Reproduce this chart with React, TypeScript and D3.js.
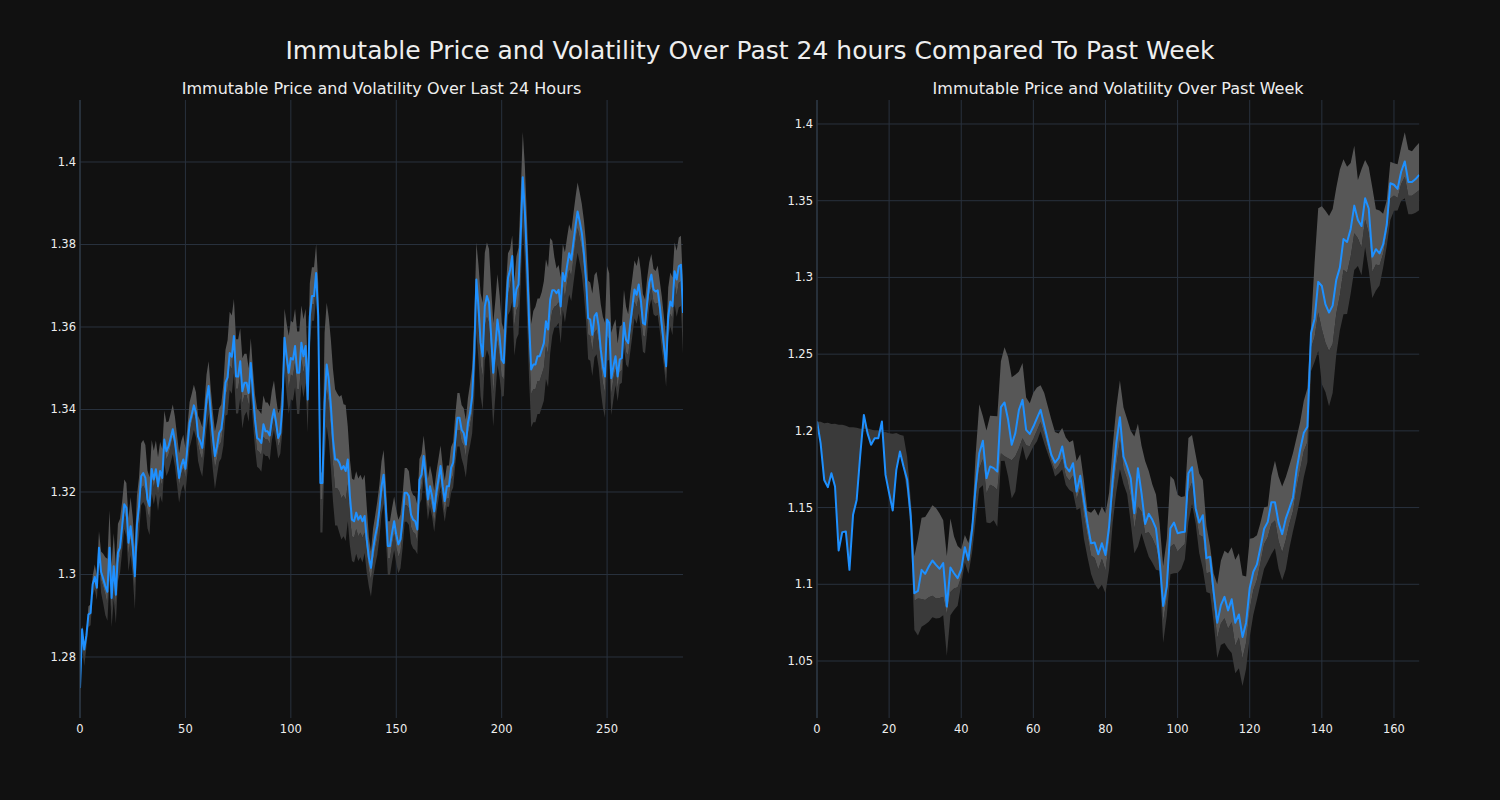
import React from "react";
import * as d3 from "d3";

// ---------- DATA ----------
const TITLE = "Immutable Price and Volatility Over Past 24 hours Compared To Past Week";
const LEFT_TITLE = "Immutable Price and Volatility Over Last 24 Hours";
const RIGHT_TITLE = "Immutable Price and Volatility Over Past Week";

const LEFT_X_TICKS = [0, 50, 100, 150, 200, 250];
const LEFT_Y_TICKS = [1.28, 1.3, 1.32, 1.34, 1.36, 1.38, 1.4];
const RIGHT_X_TICKS = [0, 20, 40, 60, 80, 100, 120, 140, 160];
const RIGHT_Y_TICKS = [1.05, 1.1, 1.15, 1.2, 1.25, 1.3, 1.35, 1.4];

// price over last 24 hours (5-minute steps)
const LEFT_PRICE = [
  1.2725, 1.2867, 1.2818, 1.2851, 1.2903, 1.2907, 1.2976, 1.2994, 1.2968, 1.3065,
  1.3006, 1.2990, 1.2972, 1.2958, 1.3065, 1.2943, 1.3020, 1.2951, 1.3053, 1.3065,
  1.3117, 1.3170, 1.3162, 1.3077, 1.3117, 1.3069, 1.2996, 1.3121, 1.3166, 1.3238,
  1.3246, 1.3234, 1.3182, 1.3166, 1.3256, 1.3230, 1.3255, 1.3214, 1.3251, 1.3234,
  1.3327, 1.3299, 1.3311, 1.3331, 1.3352, 1.3323, 1.3279, 1.3234, 1.3263, 1.3279,
  1.3256, 1.3311, 1.3368, 1.3388, 1.3410, 1.3392, 1.3335, 1.3323, 1.3307, 1.3360,
  1.3424, 1.3457, 1.3392, 1.3335, 1.3287, 1.3311, 1.3343, 1.3352, 1.3392, 1.3465,
  1.3478, 1.3537, 1.3528, 1.3578, 1.3480, 1.3480, 1.3517, 1.3444, 1.3465, 1.3465,
  1.3440, 1.3513, 1.3440, 1.3376, 1.3331, 1.3327, 1.3319, 1.3364, 1.3347, 1.3347,
  1.3337, 1.3376, 1.3400, 1.3368, 1.3331, 1.3343, 1.3408, 1.3574, 1.3529, 1.3489,
  1.3525, 1.3521, 1.3554, 1.3489, 1.3489, 1.3562, 1.3529, 1.3554, 1.3424, 1.3626,
  1.3675, 1.3675, 1.3731, 1.3626, 1.3222, 1.3222, 1.3416, 1.3509, 1.3473, 1.3408,
  1.3327, 1.3279, 1.3279, 1.3271, 1.3255, 1.3263, 1.3251, 1.3279, 1.3190, 1.3133,
  1.3129, 1.3150, 1.3133, 1.3142, 1.3129, 1.3142, 1.3085, 1.3041, 1.3016, 1.3061,
  1.3093, 1.3117, 1.3158, 1.3214, 1.3242, 1.3166, 1.3069, 1.3069, 1.3101, 1.3129,
  1.3097, 1.3073, 1.3085, 1.3133, 1.3198, 1.3198, 1.3190, 1.3145, 1.3133, 1.3129,
  1.3109, 1.3230, 1.3242, 1.3287, 1.3238, 1.3182, 1.3214, 1.3190, 1.3153, 1.3198,
  1.3230, 1.3263, 1.3214, 1.3178, 1.3214, 1.3214, 1.3259, 1.3271, 1.3327, 1.3380,
  1.3380, 1.3351, 1.3343, 1.3315, 1.3368, 1.3392, 1.3432, 1.3537, 1.3715, 1.3650,
  1.3562, 1.3529, 1.3650, 1.3675, 1.3659, 1.3578, 1.3489, 1.3554, 1.3618, 1.3578,
  1.3521, 1.3513, 1.3626, 1.3719, 1.3739, 1.3772, 1.3650, 1.3691, 1.3703, 1.3820,
  1.3963, 1.3880, 1.3760, 1.3612, 1.3497, 1.3509, 1.3509, 1.3529, 1.3529, 1.3545,
  1.3561, 1.3614, 1.3594, 1.3666, 1.3689, 1.3689, 1.3682, 1.3690, 1.3650, 1.3731,
  1.3711, 1.3747, 1.3779, 1.3763, 1.3804, 1.3844, 1.3880, 1.3856, 1.3828, 1.3779,
  1.3715, 1.3622, 1.3618, 1.3581, 1.3626, 1.3634, 1.3602, 1.3545, 1.3505, 1.3480,
  1.3618, 1.3610, 1.3476, 1.3505, 1.3529, 1.3480, 1.3521, 1.3525, 1.3610, 1.3569,
  1.3561, 1.3610, 1.3650, 1.3691, 1.3678, 1.3703, 1.3666, 1.3610, 1.3606, 1.3658,
  1.3707, 1.3727, 1.3691, 1.3686, 1.3689, 1.3650, 1.3602, 1.3553, 1.3505, 1.3626,
  1.3662, 1.3650, 1.3735, 1.3715, 1.3747, 1.3751, 1.3634,
];
// band edges, in thousandths of price: top above price, split (light/dark) below price, bottom below price
const LEFT_UP = [
  1, 1, 1, 1, 2, 2, 2, 3, 3, 4,
  5, 6, 7, 8, 9, 8, 8, 7, 7, 7,
  6, 6, 6, 6, 7, 7, 7, 7, 7, 8,
  8, 8, 7, 7, 7, 7, 7, 7, 7, 7,
  7, 7, 6, 6, 6, 6, 6, 6, 6, 6,
  5, 5, 5, 5, 5, 5, 5, 5, 5, 5,
  6, 6, 6, 6, 6, 6, 6, 6, 7, 8,
  9, 10, 10, 9, 9, 9, 8, 8, 7, 7,
  6, 6, 6, 6, 7, 7, 7, 7, 7, 7,
  7, 7, 7, 6, 6, 6, 6, 7, 8, 9,
  9, 9, 9, 10, 10, 9, 9, 9, 8, 8,
  7, 7, 7, 8, 2, 3, 17, 15, 15, 16,
  17, 17, 16, 16, 18, 15, 16, 8, 9, 10,
  10, 10, 10, 10, 10, 10, 8, 5, 4, 5,
  5, 6, 6, 6, 6, 6, 6, 6, 6, 6,
  6, 6, 6, 6, 6, 6, 6, 6, 6, 6,
  6, 5, 5, 5, 5, 5, 5, 5, 5, 5,
  5, 5, 5, 5, 5, 5, 5, 5, 6, 6,
  6, 6, 6, 6, 6, 7, 7, 8, 9, 10,
  12, 13, 13, 13, 13, 12, 12, 11, 11, 10,
  9, 8, 7, 6, 5, 5, 6, 8, 9, 10,
  11, 11, 10, 10, 11, 13, 14, 14, 14, 14,
  15, 15, 15, 15, 12, 8, 6, 6, 7, 7,
  7, 7, 7, 7, 7, 7, 7, 7, 7, 8,
  9, 9, 9, 10, 10, 10, 10, 11, 12, 13,
  13, 12, 11, 10, 9, 8, 8, 8, 8, 8,
  7, 7, 7, 7, 7, 7, 7, 7, 6, 6,
  5, 5, 5, 5, 6, 6, 7, 7, 7, 7,
  7, 7, 7, 7, 7, 7, 7,
];
const LEFT_MID = [
  0, 0, 0, 0, 0, 0, 0, 1, 1, 1,
  2, 2, 2, 3, 3, 3, 3, 3, 3, 2,
  2, 2, 3, 3, 3, 3, 3, 3, 3, 3,
  3, 3, 3, 3, 2, 2, 2, 2, 2, 2,
  2, 2, 2, 2, 2, 2, 2, 2, 2, 2,
  2, 2, 2, 2, 2, 2, 2, 3, 3, 3,
  3, 3, 3, 3, 3, 3, 3, 3, 3, 3,
  3, 3, 3, 3, 3, 3, 3, 3, 3, 3,
  3, 3, 3, 3, 3, 3, 3, 3, 2, 2,
  2, 2, 2, 2, 2, 2, 2, 3, 3, 4,
  4, 4, 4, 4, 4, 4, 4, 4, 3, 3,
  2, 2, 2, 3, 4, 4, 6, 6, 6, 6,
  6, 7, 7, 7, 7, 7, 7, 6, 5, 4,
  4, 4, 4, 4, 4, 4, 3, 3, 3, 3,
  3, 3, 3, 3, 3, 3, 3, 3, 3, 3,
  3, 3, 3, 3, 3, 3, 3, 3, 3, 3,
  3, 3, 3, 3, 3, 3, 3, 3, 3, 3,
  3, 3, 3, 3, 3, 3, 3, 3, 3, 3,
  3, 3, 3, 3, 3, 3, 4, 5, 5, 5,
  5, 5, 5, 5, 5, 5, 5, 5, 5, 5,
  4, 4, 4, 4, 4, 4, 5, 5, 5, 5,
  5, 5, 5, 6, 6, 6, 6, 6, 6, 6,
  6, 6, 6, 6, 5, 4, 3, 3, 3, 3,
  4, 4, 4, 4, 4, 4, 4, 4, 4, 4,
  4, 4, 4, 4, 4, 4, 4, 4, 4, 4,
  4, 4, 4, 3, 3, 3, 3, 3, 3, 3,
  3, 3, 3, 3, 3, 3, 3, 3, 3, 3,
  3, 3, 3, 3, 3, 3, 3, 3, 3, 3,
  3, 3, 3, 4, 4, 4, 4,
];
const LEFT_DN = [
  4, 4, 4, 3, 3, 3, 3, 3, 3, 4,
  5, 6, 7, 7, 8, 7, 8, 7, 7, 6,
  6, 6, 7, 7, 7, 7, 8, 7, 7, 7,
  7, 7, 7, 7, 6, 6, 6, 6, 6, 6,
  6, 6, 6, 6, 6, 6, 6, 6, 6, 6,
  6, 6, 6, 6, 6, 6, 6, 7, 7, 7,
  7, 7, 8, 8, 8, 7, 7, 7, 8, 8,
  9, 9, 9, 9, 9, 9, 9, 9, 8, 7,
  7, 7, 7, 7, 7, 7, 7, 7, 6, 6,
  6, 5, 5, 5, 5, 5, 6, 8, 9, 10,
  10, 10, 10, 10, 10, 10, 10, 9, 8, 7,
  6, 6, 6, 7, 12, 12, 14, 15, 15, 15,
  15, 16, 16, 17, 17, 17, 17, 15, 12, 10,
  10, 10, 10, 10, 10, 9, 8, 7, 7, 7,
  7, 7, 7, 7, 7, 7, 7, 7, 7, 7,
  7, 7, 7, 7, 7, 7, 7, 7, 7, 7,
  6, 6, 6, 5, 5, 5, 5, 5, 5, 5,
  5, 5, 5, 5, 5, 5, 6, 6, 6, 7,
  7, 7, 8, 8, 8, 8, 9, 11, 13, 13,
  13, 13, 13, 13, 13, 13, 13, 12, 11, 10,
  9, 8, 8, 9, 10, 11, 12, 12, 12, 12,
  12, 12, 13, 14, 14, 14, 14, 14, 14, 14,
  14, 14, 14, 13, 11, 9, 8, 8, 9, 9,
  10, 10, 10, 10, 10, 10, 10, 10, 10, 10,
  10, 10, 10, 10, 10, 10, 10, 10, 10, 10,
  10, 9, 9, 8, 7, 6, 6, 6, 6, 6,
  6, 7, 7, 7, 7, 7, 7, 7, 7, 7,
  6, 6, 6, 6, 6, 6, 6, 5, 5, 5,
  6, 7, 8, 9, 10, 10, 10,
];

// price over past week (hourly)
const RIGHT_PRICE = [
  1.2061, 1.1920, 1.1680, 1.1633, 1.1724, 1.1637, 1.1220, 1.1340, 1.1344, 1.1094,
  1.1453, 1.1550, 1.1844, 1.2104, 1.1985, 1.1909, 1.1952, 1.1952, 1.2061, 1.1713,
  1.1594, 1.1481, 1.1746, 1.1865, 1.1768, 1.1681, 1.1442, 1.0942, 1.0957, 1.1094,
  1.1068, 1.1116, 1.1155, 1.1127, 1.1101, 1.1138, 1.0855, 1.1109, 1.1072, 1.1040,
  1.1098, 1.1242, 1.1159, 1.1355, 1.1637, 1.1854, 1.1935, 1.1692, 1.1768, 1.1757,
  1.1735, 1.2154, 1.2185, 1.2072, 1.1909, 1.1985, 1.2137, 1.2202, 1.2007, 1.1980,
  1.2028, 1.2083, 1.2137, 1.2039, 1.1941, 1.1843, 1.1793, 1.1822, 1.1898, 1.1767,
  1.1735, 1.1789, 1.1604, 1.1707, 1.1550, 1.1398, 1.1267, 1.1272, 1.1196, 1.1267,
  1.1191, 1.1376, 1.1680, 1.1920, 1.2089, 1.1833, 1.1767, 1.1691, 1.1463, 1.1757,
  1.1593, 1.1393, 1.1459, 1.1420, 1.1365, 1.1159, 1.0859, 1.0985, 1.1365, 1.1402,
  1.1333, 1.1339, 1.1343, 1.1724, 1.1763, 1.1496, 1.1402, 1.1450, 1.1170, 1.1180,
  1.0950, 1.0750, 1.0864, 1.0918, 1.0830, 1.0902, 1.0750, 1.0803, 1.0657, 1.0750,
  1.0976, 1.1082, 1.1130, 1.1242, 1.1362, 1.1407, 1.1535, 1.1535, 1.1402, 1.1327,
  1.1428, 1.1495, 1.1566, 1.1747, 1.1880, 1.1987, 1.2027, 1.2638, 1.2731, 1.2971,
  1.2944, 1.2824, 1.2771, 1.2816, 1.2984, 1.3064, 1.3250, 1.3231, 1.3316, 1.3468,
  1.3375, 1.3335, 1.3516, 1.3449, 1.3136, 1.3184, 1.3157, 1.3215, 1.3343, 1.3614,
  1.3604, 1.3577, 1.3689, 1.3756, 1.3622, 1.3622, 1.3641, 1.3668,
];
const RIGHT_UP = [
  0, 14, 37, 42, 32, 41, 82, 70, 69, 93,
  57, 47, 17, -9, 3, 10, 5, 5, -7, 28,
  39, 50, 24, 11, 20, 15, 11, 24, 34, 34,
  37, 36, 36, 37, 36, 28, 33, 32, 24, 21,
  13, 8, 11, 5, 21, 32, 16, 31, 33, 34,
  36, 30, 36, 41, 44, 38, 25, 24, 21, 20,
  22, 20, 16, 21, 22, 23, 20, 16, 12, 19,
  19, 15, 20, 14, 13, 8, 20, 22, 25, 24,
  27, 22, 22, 23, 24, 32, 31, 31, 50, 29,
  31, 41, 28, 23, 22, 24, 26, 31, 34, 28,
  25, 23, 23, 23, 21, 35, 32, 23, 21, 7,
  12, 25, 29, 30, 37, 34, 41, 40, 40, 30,
  32, 22, 19, 16, 14, 10, 17, 27, 30, 31,
  27, 28, 29, 21, 18, 21, 25, 5, 37, 48,
  52, 61, 63, 63, 60, 64, 52, 49, 43, 39,
  26, 37, 25, 27, 45, 26, 28, 20, 16, 14,
  14, 16, 16, 19, 21, 20, 21, 21,
];
const RIGHT_MID = [
  0, -14, -37, -42, -32, -41, -82, -70, -69, -93,
  -57, -47, -17, 9, -3, -10, -5, -5, 7, -28,
  -39, -50, -24, -11, -20, -15, -11, 5, 5, 19,
  17, 20, 23, 22, 19, 22, 5, 16, 10, 6,
  5, 3, 3, 5, 8, 10, 12, 10, 12, 12,
  12, 30, 35, 25, 10, 15, 25, 25, 10, 8,
  8, 8, 8, 6, 5, 4, 5, 5, 8, 6,
  6, 8, 5, 8, 10, 8, 8, 10, 10, 10,
  10, 10, 12, 15, 15, 8, 8, 12, 10, 25,
  12, 6, 12, 12, 12, 3, 10, 8, 12, 14,
  12, 10, 8, 12, 10, 4, 8, 14, 10, 10,
  8, 10, 12, 14, 12, 15, 15, 15, 14, 13,
  14, 12, 10, 10, 10, 10, 14, 12, 12, 12,
  14, 10, 9, 12, 13, 12, 10, 10, 12, 20,
  28, 25, 25, 25, 22, 18, 20, 20, 18, 18,
  12, 14, 14, 16, 10, 10, 8, 6, 6, 10,
  7, 6, 8, 10, 9, 9, 9, 10,
];
const RIGHT_DN = [
  0, 0, 0, 0, 0, 0, 0, 0, 0, 0,
  0, 0, 0, 0, 0, 0, 0, 0, 0, 0,
  0, 0, 0, 0, 2, 8, 9, 24, 29, 37,
  33, 36, 37, 35, 32, 34, 32, 31, 24, 18,
  10, 10, 9, 15, 22, 23, 29, 29, 37, 34,
  36, 35, 38, 37, 35, 38, 34, 30, 20, 13,
  13, 15, 14, 12, 9, 6, 9, 10, 15, 12,
  12, 19, 12, 21, 25, 22, 20, 27, 23, 27,
  25, 28, 28, 32, 34, 18, 18, 29, 26, 51,
  26, 14, 28, 28, 27, 7, 24, 19, 30, 33,
  26, 24, 18, 32, 24, 10, 20, 35, 22, 24,
  20, 23, 26, 30, 25, 35, 33, 35, 32, 30,
  32, 28, 23, 24, 26, 26, 34, 30, 30, 30,
  33, 26, 22, 30, 32, 29, 23, 25, 28, 45,
  64, 57, 61, 57, 49, 41, 49, 47, 42, 42,
  30, 32, 32, 40, 27, 27, 21, 15, 14, 24,
  17, 14, 19, 24, 21, 21, 22, 23,
];

// ---------- STYLE ----------
const BG = "#111111";
const GRID = "#29323e";
const SPINE = "#2f3b49";
const TEXT = "#eeeeee";
const LINE = "#1e90ff";
const LIGHT = "#575757";
const DARK = "#3a3a3a";
const FONT = "DejaVu Sans, Verdana, sans-serif";

type PanelProps = {
  title: string;
  price: number[];
  up: number[];
  mid: number[];
  dn: number[];
  xTicks: number[];
  yTicks: number[];
  left: number;
  right: number;
  yTop: number;
  yBottom: number;
  yDomain: [number, number];
  id: string;
};

function fmt(v: number) {
  return String(parseFloat(v.toFixed(2)));
}

function Panel(p: PanelProps) {
  const n = p.price.length;
  const x = d3.scaleLinear().domain([0, n - 1]).range([p.left, p.right]);
  const y = d3.scaleLinear().domain(p.yDomain).range([p.yBottom, p.yTop]);
  const idx = d3.range(n);
  const top = (i: number) => p.price[i] + p.up[i] / 1000;
  const mid = (i: number) => p.price[i] - p.mid[i] / 1000;
  const bot = (i: number) => p.price[i] - p.dn[i] / 1000;
  const darkArea = d3
    .area<number>()
    .x((i) => x(i))
    .y0((i) => y(bot(i)))
    .y1((i) => y(mid(i)));
  const lightArea = d3
    .area<number>()
    .x((i) => x(i))
    .y0((i) => y(mid(i)))
    .y1((i) => y(top(i)));
  const line = d3
    .line<number>()
    .x((i) => x(i))
    .y((i) => y(p.price[i]));
  const cx = (p.left + p.right) / 2;
  return (
    <g>
      <defs>
        <clipPath id={p.id}>
          <rect x={p.left} y={p.yTop} width={p.right - p.left} height={p.yBottom - p.yTop} />
        </clipPath>
      </defs>
      {p.xTicks.map((t) => (
        <line key={"gx" + t} x1={x(t)} x2={x(t)} y1={p.yTop} y2={p.yBottom} stroke={GRID} strokeWidth={1} />
      ))}
      {p.yTicks.map((t) => (
        <line key={"gy" + t} x1={p.left} x2={p.right} y1={y(t)} y2={y(t)} stroke={GRID} strokeWidth={1} />
      ))}
      <g clipPath={`url(#${p.id})`}>
        <path d={darkArea(idx) || ""} fill={DARK} />
        <path d={lightArea(idx) || ""} fill={LIGHT} />
        <path d={line(idx) || ""} fill="none" stroke={LINE} strokeWidth={2} strokeLinejoin="round" />
      </g>
      <line x1={p.left} x2={p.left} y1={p.yTop} y2={p.yBottom} stroke={SPINE} strokeWidth={1.2} />
      {p.xTicks.map((t) => (
        <text key={"tx" + t} x={x(t)} y={p.yBottom + 15} fill={TEXT} fontSize={11.5} fontFamily={FONT} textAnchor="middle">
          {t}
        </text>
      ))}
      {p.yTicks.map((t) => (
        <text key={"ty" + t} x={p.left - 4} y={y(t) + 4} fill={TEXT} fontSize={11.5} fontFamily={FONT} textAnchor="end">
          {fmt(t)}
        </text>
      ))}
      <text x={cx} y={p.yTop - 6} fill={TEXT} fontSize={16} fontFamily={FONT} textAnchor="middle">
        {p.title}
      </text>
    </g>
  );
}

export default function App() {
  return (
    <svg
      width={1500}
      height={800}
      style={{ position: "absolute", left: 0, top: 0, display: "block" }}
    >
      <rect x={0} y={0} width={1500} height={800} fill={BG} />
      <text x={750} y={59} fill={TEXT} fontSize={25} fontFamily={FONT} textAnchor="middle">
        {TITLE}
      </text>
      <Panel
        id="clipL"
        title={LEFT_TITLE}
        price={LEFT_PRICE}
        up={LEFT_UP}
        mid={LEFT_MID}
        dn={LEFT_DN}
        xTicks={LEFT_X_TICKS}
        yTicks={LEFT_Y_TICKS}
        left={80}
        right={683}
        yTop={100}
        yBottom={718}
        yDomain={[1.26521, 1.41503]}
      />
      <Panel
        id="clipR"
        title={RIGHT_TITLE}
        price={RIGHT_PRICE}
        up={RIGHT_UP}
        mid={RIGHT_MID}
        dn={RIGHT_DN}
        xTicks={RIGHT_X_TICKS}
        yTicks={RIGHT_Y_TICKS}
        left={817}
        right={1419.2}
        yTop={100}
        yBottom={718}
        yDomain={[1.01285, 1.41564]}
      />
    </svg>
  );
}
